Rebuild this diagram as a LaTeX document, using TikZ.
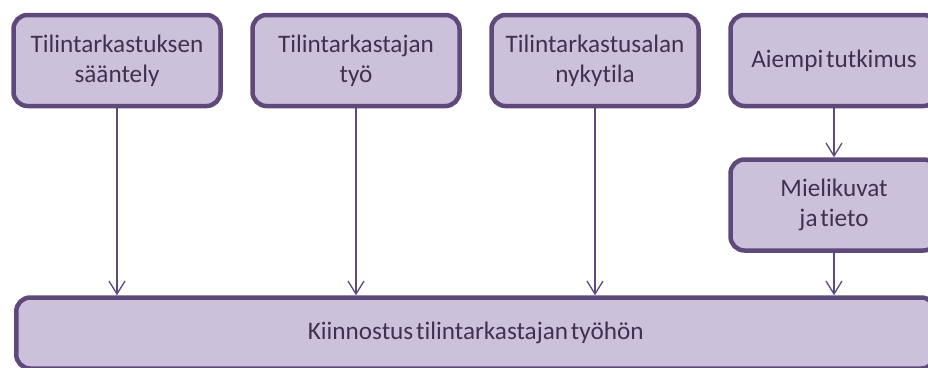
\documentclass[tikz,border=0pt]{standalone}
\usepackage{fontspec}
\setmainfont{Carlito}[Ligatures=NoCommon,WordSpace=0.5]
\usetikzlibrary{arrows.meta,positioning}
\definecolor{boxline}{HTML}{5F497A}
\definecolor{boxfill}{HTML}{CCC1DA}
\definecolor{boxtext}{HTML}{3F3151}

\begin{document}
\begin{tikzpicture}[x=1pt,y=-1pt,
    topbox/.style={draw=boxline,fill=boxfill,line width=4.5pt,rounded corners=14pt,
        minimum width=207pt,minimum height=91pt,align=center,text=boxtext,
        font=\fontsize{25.2}{30}\selectfont},
    flow/.style={draw=boxline,line width=1.3pt,-{Straight Barb[length=13pt,width=16pt,line width=1.3pt]}}]
    \clip (0,0) rectangle (928,367);
    \foreach \t [count=\n] in {{Tilintarkastuksen\\s\"a\"antely},{Tilintarkastajan\\ty\"o},{Tilintarkastusalan\\nykytila},{Aiempi tutkimus}}
        \node[topbox] (N\n) at ({117+(\n-1)*239},60.5) {\t};

    \node[topbox,below=49pt of N4] (M) {Mielikuvat\\ja tieto};
    \node[topbox,minimum width=919pt,minimum height=71pt,anchor=north west] (K) at (14,295.25) {Kiinnostus tilintarkastajan ty\"oh\"on};

    \draw[flow] (N1.south) -- (N1.south |- K.north);
    \draw[flow] (N2.south) -- (N2.south |- K.north);
    \draw[flow] (N3.south) -- (N3.south |- K.north);
    \draw[flow] (N4.south) -- (M.north);
    \draw[flow] (M.south) -- (M.south |- K.north);
\end{tikzpicture}
\end{document}
